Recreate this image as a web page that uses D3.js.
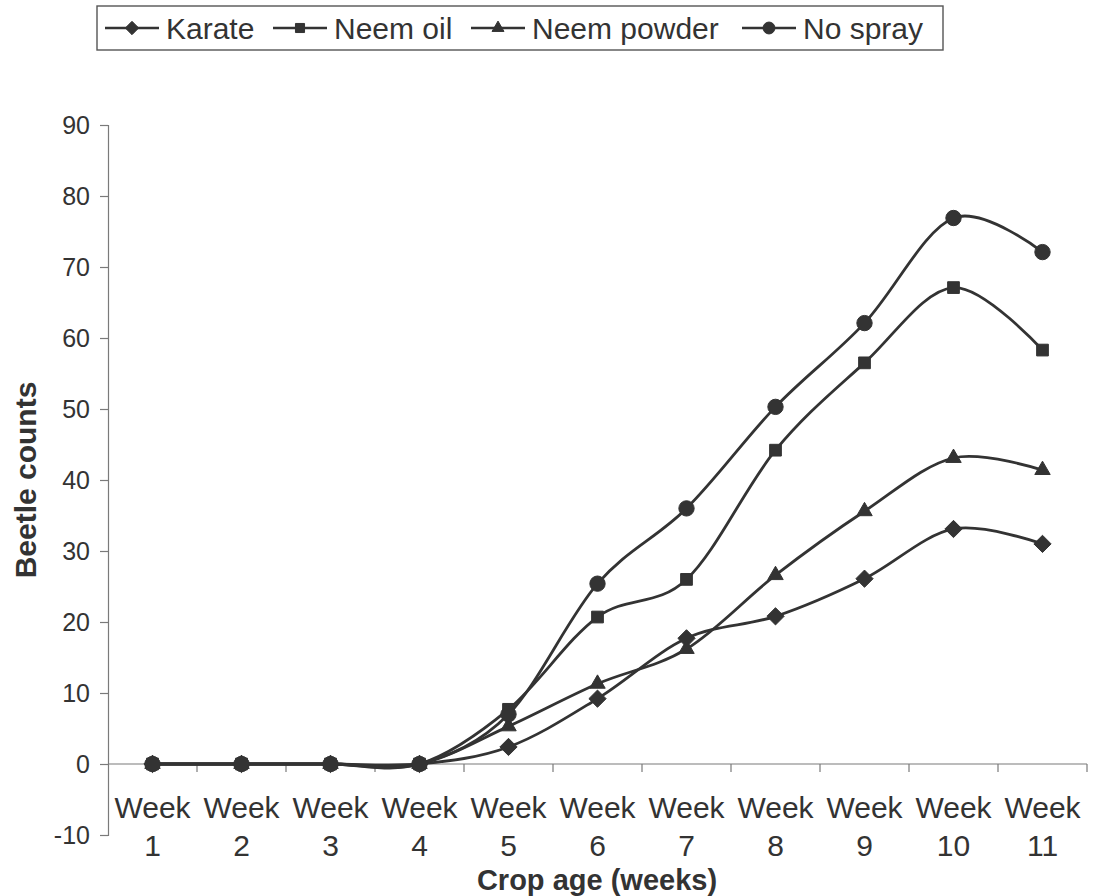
<!DOCTYPE html>
<html>
<head>
<meta charset="utf-8">
<script src="https://cdn.jsdelivr.net/npm/d3@7"></script>
<style>
  html, body { margin: 0; padding: 0; background: #fff; }
  svg { display: block; font-family: "Liberation Sans", Arial, sans-serif; }
</style>
</head>
<body>
<svg id="chart" width="1103" height="896"></svg>
<script>
// Beetle counts per crop-age week under each treatment
const weeks = ["1", "2", "3", "4", "5", "6", "7", "8", "9", "10", "11"];
const karate     = [0, 0, 0, 0, 2.4, 9.2, 17.7, 20.8, 26.1, 33.1, 31.0];
const neemOil    = [0, 0, 0, 0, 7.7, 20.7, 26.0, 44.2, 56.5, 67.1, 58.3];
const neemPowder = [0, 0, 0, 0, 5.3, 11.3, 16.2, 26.6, 35.6, 43.1, 41.4];
const noSpray    = [0, 0, 0, 0, 7.0, 25.4, 36.0, 50.3, 62.1, 76.9, 72.1];
const seriesNames = ["Karate", "Neem oil", "Neem powder", "No spray"];
const seriesShapes = ["diamond", "square", "triangle", "circle"];
const yTicks = [-10, 0, 10, 20, 30, 40, 50, 60, 70, 80, 90];

const series = [karate, neemOil, neemPowder, noSpray].map((values, i) => ({
  name: seriesNames[i], shape: seriesShapes[i], values
}));

const svg = d3.select("#chart");
const ink = "#333";
const axisColor = "#7a7a7a";

const plot = { left: 108, right: 1087, top: 125, bottom: 835 };

const x = d3.scaleBand().domain(weeks).range([plot.left, plot.right]).padding(0);
const y = d3.scaleLinear().domain([-10, 90]).range([plot.bottom, plot.top]);
const cx = w => x(w) + x.bandwidth() / 2;

// marker path generator; k scales the symbol area
function markerPath(shape, k) {
  if (shape === "diamond") return d3.symbol(d3.symbolDiamond2, 190 * k)();
  if (shape === "square") return d3.symbol(d3.symbolSquare2, 175 * k)();
  if (shape === "triangle") return d3.symbol(d3.symbolTriangle2, 170 * k)();
  return d3.symbol(d3.symbolCircle, 185 * k)();
}
function drawMarker(g, shape, px, py, k = 1) {
  g.append("path")
    .attr("d", markerPath(shape, k))
    .attr("transform", `translate(${px},${py})`)
    .attr("fill", ink)
    .attr("stroke", ink)
    .attr("stroke-width", 1);
}

// Y axis
const yAxis = d3.axisLeft(y).tickValues(yTicks).tickSize(8).tickPadding(10)
  .tickFormat(d => String(d));
const gy = svg.append("g").attr("transform", `translate(${plot.left},0)`).call(yAxis);
gy.select(".domain").attr("stroke", axisColor).attr("stroke-width", 1.2);
gy.selectAll(".tick line").attr("stroke", axisColor).attr("stroke-width", 1.2);
gy.selectAll(".tick text").attr("fill", ink).attr("font-size", 25)
  .attr("font-family", "Liberation Sans, Arial, sans-serif");

// X axis along the zero line with category boundaries as ticks
const gx = svg.append("g");
gx.append("line")
  .attr("x1", plot.left).attr("x2", plot.right)
  .attr("y1", y(0)).attr("y2", y(0))
  .attr("stroke", axisColor).attr("stroke-width", 1.2);
gx.selectAll("line.tk")
  .data(weeks)
  .join("line")
  .attr("class", "tk")
  .attr("x1", d => x(d) + x.bandwidth())
  .attr("x2", d => x(d) + x.bandwidth())
  .attr("y1", y(0)).attr("y2", y(0) + 8)
  .attr("stroke", axisColor).attr("stroke-width", 1.2);

const labels = gx.selectAll("text.wk")
  .data(weeks)
  .join("text")
  .attr("class", "wk")
  .attr("text-anchor", "middle")
  .attr("fill", ink)
  .attr("font-size", 30);
labels.append("tspan").attr("x", d => cx(d)).attr("y", 818).text("Week");
labels.append("tspan").attr("x", d => cx(d)).attr("y", 856).text(d => d);

// Axis titles
svg.append("text")
  .attr("x", 597).attr("y", 890)
  .attr("text-anchor", "middle")
  .attr("font-weight", "bold").attr("font-size", 29)
  .attr("fill", ink)
  .text("Crop age (weeks)");
svg.append("text")
  .attr("transform", `translate(36,480) rotate(-90)`)
  .attr("text-anchor", "middle")
  .attr("font-weight", "bold").attr("font-size", 30)
  .attr("fill", ink)
  .text("Beetle counts");

// Smoothed series lines and markers
const line = d3.line()
  .x((d, i) => cx(weeks[i]))
  .y(d => y(d))
  .curve(d3.curveCardinal.tension(0));

const gSeries = svg.append("g");
series.forEach(s => {
  gSeries.append("path")
    .attr("d", line(s.values))
    .attr("fill", "none")
    .attr("stroke", ink)
    .attr("stroke-width", 2.8);
});
series.forEach(s => {
  const g = gSeries.append("g");
  s.values.forEach((v, i) => drawMarker(g, s.shape, cx(weeks[i]), y(v)));
});

// Legend
const legend = svg.append("g");
legend.append("rect")
  .attr("x", 97).attr("y", 6).attr("width", 846).attr("height", 44)
  .attr("fill", "#fff").attr("stroke", "#555").attr("stroke-width", 1.4);
const legendX = [105, 273, 471, 742];
series.forEach((s, i) => {
  const g = legend.append("g").attr("transform", `translate(${legendX[i]},28)`);
  g.append("line").attr("x1", 0).attr("x2", 54).attr("y1", 0).attr("y2", 0)
    .attr("stroke", ink).attr("stroke-width", 2.6);
  drawMarker(g, s.shape, 27, 0, 0.6);
  g.append("text").attr("x", 61).attr("y", 11)
    .attr("font-size", 30).attr("fill", ink)
    .text(s.name);
});
</script>
</body>
</html>
